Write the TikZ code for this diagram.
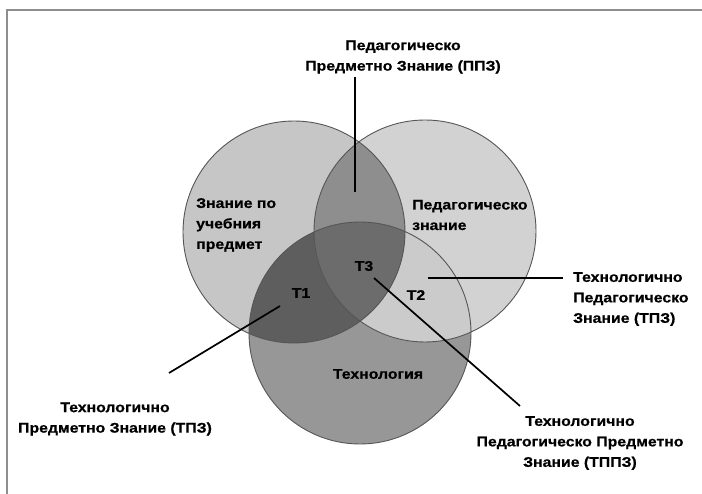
\documentclass[tikz,border=0pt]{standalone}
\usepackage{fontspec}
\setmainfont[FakeStretch=1.13,BoldFeatures={FakeBold=0.6}]{Liberation Sans}
\usetikzlibrary{positioning}
\definecolor{frameg}{HTML}{8E8E8E}
\definecolor{rimg}{HTML}{555555}
\definecolor{subj}{HTML}{C6C6C6}
\definecolor{peda}{HTML}{D2D2D2}
\definecolor{tech}{HTML}{979797}
\definecolor{subjpeda}{HTML}{8E8E8E}
\definecolor{subjtech}{HTML}{5E5E5E}
\definecolor{pedatech}{HTML}{CBCBCB}
\definecolor{allthree}{HTML}{6C6C6C}

\begin{document}
\begin{tikzpicture}[x=1pt,y=-1pt,
  lbl/.style={font=\fontsize{14}{20.5}\selectfont\bfseries,inner sep=0pt},
  lead/.style={line width=1.7pt,black},
  rim/.style={rimg,line width=0.9pt}]
  \useasboundingbox (0,0) rectangle (702,494);
  % frame
  \draw[frameg,line width=2pt] (702,10) -- (7,10) -- (7,494);
  % the three sets
  \coordinate (cs) at (294,232);
  \coordinate (cp) at (425,231);
  \coordinate (ct) at (360,333);
  \def\rad{111}
  \fill[tech] (ct) circle (\rad);
  \fill[subj] (cs) circle (\rad);
  \fill[peda] (cp) circle (\rad);
  \begin{scope}
    \clip (cs) circle (\rad);
    \fill[subjpeda] (cp) circle (\rad);
    \fill[subjtech] (ct) circle (\rad);
  \end{scope}
  \begin{scope}
    \clip (cp) circle (\rad);
    \fill[pedatech] (ct) circle (\rad);
    \clip (cs) circle (\rad);
    \fill[allthree] (ct) circle (\rad);
  \end{scope}
  \draw[rim] (cs) circle (\rad) (cp) circle (\rad) (ct) circle (\rad);
  % labels inside
  \node[lbl,align=left,anchor=west] (subjtxt) at (196,225) {Знание по\\учебния\\предмет};
  \node[lbl,align=left,anchor=west] (pedatxt) at (412,215) {Педагогическо\\знание};
  \node[lbl] (techtxt) at (378,374) {Технология};
  \node[lbl] (t1) at (301,293) {Т1};
  \node[lbl] (t2) at (416,295) {Т2};
  \node[lbl] (t3) at (364,266) {Т3};
  % labels outside
  \node[lbl,align=center] (ppz) at (403,57) {Педагогическо\\Предметно Знание (ППЗ)};
  \node[lbl,align=left,anchor=west] (tpz) at (573,299) {Технологично\\Педагогическо\\Знание (ТПЗ)};
  \node[lbl,align=center] (tpz2) at (115,419) {Технологично\\Предметно Знание (ТПЗ)};
  \node[lbl,align=center] (tppz) at (580,443) {Технологично\\Педагогическо Предметно\\Знание (ТППЗ)};
  % leader lines
  \coordinate (ppzTop) at (355,77);
  \coordinate (ppzEnd) at (355,192);
  \coordinate (tpzIn) at (428,278);
  \coordinate (tpzOut) at (563,278);
  \coordinate (t1In) at (280,306);
  \coordinate (t1Out) at (169,373);
  \coordinate (t3In) at (374,278);
  \coordinate (t3Out) at (520,406);
  \draw[lead] (ppzTop) -- (ppzEnd);
  \draw[lead] (tpzIn) -- (tpzOut);
  \draw[lead] (t1In) -- (t1Out);
  \draw[lead] (t3In) -- (t3Out);
\end{tikzpicture}
\end{document}
